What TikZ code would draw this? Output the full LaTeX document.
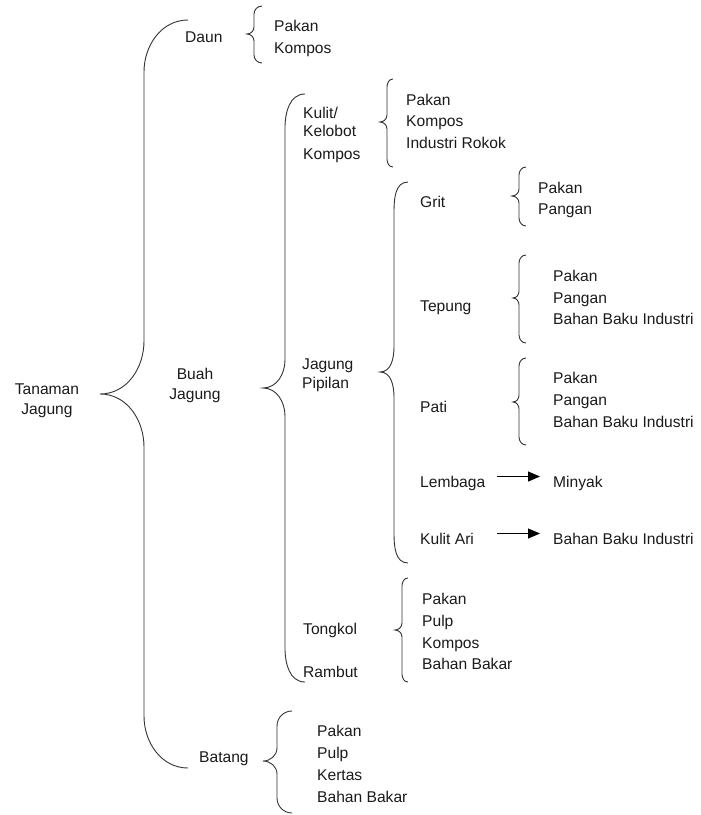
\documentclass[tikz,border=0pt]{standalone}
\usepackage{fontspec}
\setmainfont{Liberation Sans}
\usetikzlibrary{arrows.meta,calc}
\definecolor{ink}{HTML}{1A1A1A}
\definecolor{lineink}{HTML}{333333}
\newcommand\curlybr[8]{% xe, xm, xtip, ytop, ytip, ybot, hook, tipr
  \draw[br] (#1,#4) to[out=180,in=90] (#2,#4+#7) -- (#2,#5-#8)
    to[out=-90,in=0] (#3,#5) to[out=0,in=90] (#2,#5+#8) -- (#2,#6-#7)
    to[out=-90,in=180] (#1,#6);}
\begin{document}
\begin{tikzpicture}[x=1pt,y=-1pt,
  lbl/.style={inner sep=0pt,anchor=base west,text=ink,font=\fontsize{15.6}{20}\selectfont},
  clbl/.style={lbl,anchor=base},
  br/.style={draw=lineink,line width=0.9pt},
  arr/.style={draw=black,line width=1.1pt,-{Triangle[length=12pt,width=10pt]}}]
\useasboundingbox (0,0) rectangle (701,815);
% level 0
\node[clbl] (tan1) at (47,394) {Tanaman};
\node[clbl] (tan2) at (47,414) {Jagung};
% level 1
\node[lbl] (daun) at (185,42) {Daun};
\node[clbl] (buah1) at (195,379) {Buah};
\node[clbl] (buah2) at (195,399) {Jagung};
\node[lbl] (bat) at (199,762) {Batang};
% Daun list
\node[lbl] (d1) at (274,31) {Pakan};
\node[lbl] (d2) at (274,53) {Kompos};
% level 2 (Buah Jagung)
\node[lbl] (kul1) at (303,118) {Kulit/};
\node[lbl] (kul2) at (303,136) {Kelobot};
\node[lbl] (kul3) at (303,159) {Kompos};
\node[lbl] (jp1) at (302,369) {Jagung};
\node[lbl] (jp2) at (302,388) {Pipilan};
\node[lbl] (tong) at (303,634) {Tongkol};
\node[lbl] (ram) at (303,677) {Rambut};
% Kulit list
\node[lbl] (k1) at (406,105) {Pakan};
\node[lbl] (k2) at (406,126) {Kompos};
\node[lbl] (k3) at (406,148) {Industri Rokok};
% level 3 (Jagung Pipilan)
\node[lbl] (grit) at (420,207) {Grit};
\node[lbl] (tep) at (420,311) {Tepung};
\node[lbl] (pati) at (420,412) {Pati};
\node[lbl] (lem) at (420,487) {Lembaga};
\node[lbl] (ari) at (420,544) {Kulit Ari};
% Grit list
\node[lbl] (g1) at (538,193) {Pakan};
\node[lbl] (g2) at (538,214) {Pangan};
% Tepung list
\node[lbl] (t1) at (553,281) {Pakan};
\node[lbl] (t2) at (553,303) {Pangan};
\node[lbl] (t3) at (553,324) {Bahan Baku Industri};
% Pati list
\node[lbl] (p1) at (553,383) {Pakan};
\node[lbl] (p2) at (553,405) {Pangan};
\node[lbl] (p3) at (553,427) {Bahan Baku Industri};
% arrows targets
\node[lbl] (min) at (553,487) {Minyak};
\node[lbl] (ari2) at (553,544) {Bahan Baku Industri};
% Tongkol list
\node[lbl] (o1) at (422,604) {Pakan};
\node[lbl] (o2) at (422,626) {Pulp};
\node[lbl] (o3) at (422,648) {Kompos};
\node[lbl] (o4) at (422,669) {Bahan Bakar};
% Batang list
\node[lbl] (b1) at (317,736) {Pakan};
\node[lbl] (b2) at (317,758) {Pulp};
\node[lbl] (b3) at (317,780) {Kertas};
\node[lbl] (b4) at (317,802) {Bahan Bakar};
% braces
\curlybr{188}{144}{100}{20}{394}{768}{52}{53}
\curlybr{262}{254}{247}{6}{34}{63}{8}{7}
\curlybr{305}{285}{263}{94}{388}{682}{34}{28}
\curlybr{393}{387}{380}{79}{122}{167}{8}{7}
\curlybr{408}{394}{380}{182}{372}{563}{30}{25}
\curlybr{526}{519}{512}{167}{196}{226}{8}{7}
\curlybr{526}{519}{513}{255}{298}{343}{8}{7}
\curlybr{526}{519}{513}{358}{402}{445}{8}{7}
\curlybr{408}{402}{395}{578}{630}{682}{8}{7}
\curlybr{292}{277}{263}{711}{761}{813}{15}{13}
% arrows
\coordinate (arrs) at (497,0);
\draw[arr] ($(lem.base -| arrs)+(0,-10.5)$) -- ($(min.base west)+(-13,-10.5)$);
\draw[arr] ($(ari.base -| arrs)+(0,-10.5)$) -- ($(ari2.base west)+(-13,-10.5)$);
\end{tikzpicture}
\end{document}
